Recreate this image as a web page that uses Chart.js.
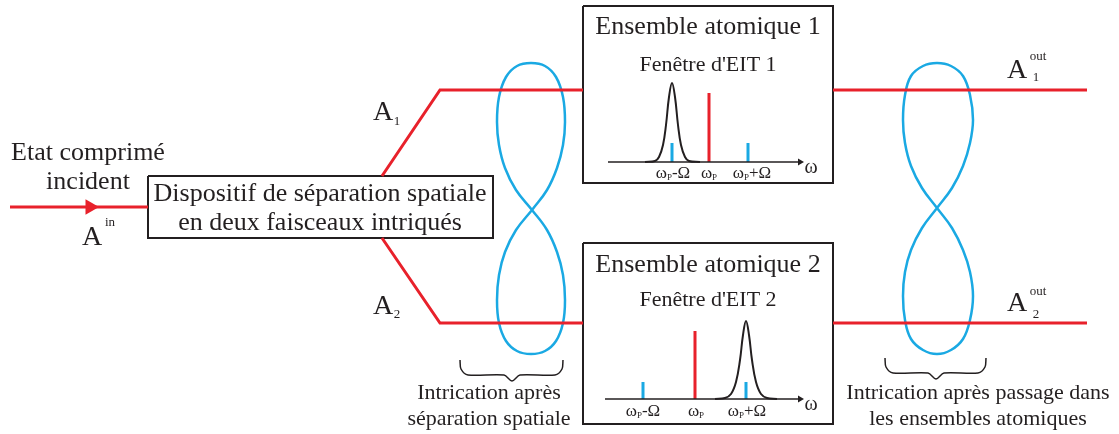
<!DOCTYPE html>
<html>
<head>
<meta charset="utf-8">
<script src="https://cdn.jsdelivr.net/npm/chart.js@4"></script>
<style>
  html, body { margin: 0; padding: 0; background: #fff; }
  canvas { display: block; }
</style>
</head>
<body>
<canvas id="diagram" width="1119" height="434"></canvas>
<script>
// --- Geometry (x, y in pixels, y downwards) ---
const inputBeam = [[10, 207], [148, 207]];
const arm1 = [[382, 176], [440, 90], [583, 90]];
const arm2 = [[382, 238], [440, 323], [583, 323]];
const out1 = [[833, 90], [1087, 90]];
const out2 = [[833, 323], [1087, 323]];

const splitterBox = [[148, 176], [493, 176], [493, 238], [148, 238], [148, 176]];
const atomBox1 = [[583, 6], [833, 6], [833, 183], [583, 183], [583, 6]];
const atomBox2 = [[583, 243], [833, 243], [833, 424], [583, 424], [583, 243]];

const axis1 = [[608, 162], [800, 162]];
const axis2 = [[605, 399], [800, 399]];

const eit1 = [[645, 162], [655, 161], [659, 157], [663, 145], [666, 125], [669, 97], [672, 83],
              [675, 97], [678, 125], [681, 145], [685, 157], [689, 161], [700, 162]];
const eit2 = [[715, 399], [725, 398], [731, 394], [736, 382], [740, 360], [743, 335], [746, 321],
              [749, 335], [752, 360], [756, 382], [761, 394], [767, 398], [777, 399]];

const probe1 = [[709, 93], [709, 162]];
const probe2 = [[695, 331], [695, 399]];
const side1a = [[672, 143], [672, 162]];
const side1b = [[748, 143], [748, 162]];
const side2a = [[643, 382], [643, 399]];
const side2b = [[746, 382], [746, 399]];

const loop1 = [[532, 210], [547, 190], [557, 168], [563, 145], [565, 122], [563, 97], [556, 77], [545, 66], [531, 63],
               [517, 66], [506, 77], [499, 97], [497, 122], [499, 145], [505, 168], [516, 190], [532, 210],
               [547, 230], [557, 252], [563, 275], [565, 300], [563, 323], [556, 341], [545, 351], [531, 354],
               [517, 351], [506, 341], [499, 323], [497, 300], [499, 275], [505, 252], [516, 230], [532, 210]];
const loop2 = [[937, 208], [952, 188], [963, 166], [970, 143], [973, 120], [970, 95], [963, 76], [951, 66], [937, 63],
               [923, 66], [911, 76], [905, 95], [903, 120], [905, 143], [911, 166], [922, 188], [937, 208],
               [952, 228], [963, 250], [970, 272], [973, 296], [970, 320], [963, 339], [951, 350], [937, 354],
               [923, 350], [911, 339], [905, 320], [903, 296], [905, 272], [911, 250], [922, 228], [937, 208]];

const brace1 = [[460, 360], [461, 369], [468, 375], [504, 375], [512, 381], [520, 375], [555, 375], [562, 369], [563, 360]];
const brace2 = [[885, 358], [886, 367], [893, 373], [928, 373], [936, 379], [944, 373], [978, 373], [985, 367], [986, 358]];

const arrowHeads = [[90, 207]];
const axisHeads = [[800, 162], [800, 399]];

// --- Text labels: [text, size, x, y] ---
const labels = [
  ['Etat comprimé', 26, 88, 153],
  ['incident', 26, 88, 182],
  ['A', 28, 92, 238],
  ['in', 13, 110, 223],
  ['Dispositif de séparation spatiale', 26, 320, 194],
  ['en deux faisceaux intriqués', 26, 320, 223],
  ['A', 28, 383, 113],
  ['1', 13, 397, 122],
  ['A', 28, 383, 307],
  ['2', 13, 397, 315],
  ['Ensemble atomique 1', 26, 708, 27],
  ['Fenêtre d\'EIT 1', 22, 708, 65],
  ['Ensemble atomique 2', 26, 708, 265],
  ['Fenêtre d\'EIT 2', 22, 708, 300],
  ['ω', 20, 811, 168],
  ['ω', 20, 811, 405],
  ['A', 28, 1017, 71],
  ['out', 13, 1038, 57],
  ['1', 13, 1036, 78],
  ['A', 28, 1017, 304],
  ['out', 13, 1038, 292],
  ['2', 13, 1036, 315],
  ['Intrication après', 22, 489, 393],
  ['séparation spatiale', 22, 489, 419],
  ['Intrication après passage dans', 22, 978, 393],
  ['les ensembles atomiques', 22, 978, 419]
];
// frequency labels with subscript P: [prefix, suffix, x, y]
const freqLabels = [
  ['ω', '-Ω', 673, 174],
  ['ω', '', 709, 174],
  ['ω', '+Ω', 752, 174],
  ['ω', '-Ω', 643, 412],
  ['ω', '', 696, 412],
  ['ω', '+Ω', 747, 412]
];

const RED = '#e8212b';
const BLUE = '#1aa9e3';
const INK = '#231f20';
const FONT = '"Liberation Serif", "DejaVu Serif", serif';

const pts = arr => arr.map(([x, y]) => ({ x, y }));

function line(data, color, width, tension = 0) {
  return { data: pts(data), showLine: true, borderColor: color, borderWidth: width,
           pointRadius: 0, tension, fill: false, borderJoinStyle: 'miter' };
}

const textPlugin = {
  id: 'diagramText',
  afterDatasetsDraw(chart) {
    const { ctx, scales } = chart;
    const px = v => scales.x.getPixelForValue(v);
    const py = v => scales.y.getPixelForValue(v);
    ctx.save();
    ctx.fillStyle = INK;
    ctx.textBaseline = 'middle';
    ctx.textAlign = 'center';
    labels.forEach(([t, s, x, y]) => {
      ctx.font = s + 'px ' + FONT;
      ctx.fillText(t, px(x), py(y));
    });
    ctx.textAlign = 'left';
    freqLabels.forEach(([a, b, x, y]) => {
      const parts = [[a, 17, 0], ['P', 9, 4], [b, 17, 0]];
      let total = 0;
      parts.forEach(([t, s]) => { ctx.font = s + 'px ' + FONT; total += ctx.measureText(t).width; });
      let cx = px(x) - total / 2;
      parts.forEach(([t, s, dy]) => {
        ctx.font = s + 'px ' + FONT;
        ctx.fillText(t, cx, py(y) + dy);
        cx += ctx.measureText(t).width;
      });
    });
    ctx.restore();
  }
};

new Chart(document.getElementById('diagram'), {
  type: 'scatter',
  data: {
    datasets: [
      line(inputBeam, RED, 3),
      line(arm1, RED, 3),
      line(arm2, RED, 3),
      line(out1, RED, 3),
      line(out2, RED, 3),
      line(splitterBox, INK, 2),
      line(atomBox1, INK, 2),
      line(atomBox2, INK, 2),
      line(axis1, INK, 1.5),
      line(axis2, INK, 1.5),
      line(eit1, INK, 2, 0.4),
      line(eit2, INK, 2, 0.4),
      line(probe1, RED, 3),
      line(probe2, RED, 3),
      line(side1a, BLUE, 3),
      line(side1b, BLUE, 3),
      line(side2a, BLUE, 3),
      line(side2b, BLUE, 3),
      line(loop1, BLUE, 2.5, 0.4),
      line(loop2, BLUE, 2.5, 0.4),
      line(brace1, INK, 1.5, 0.3),
      line(brace2, INK, 1.5, 0.3),
      { data: pts(arrowHeads), pointStyle: 'triangle', rotation: 90, pointRadius: 9,
        backgroundColor: RED, borderColor: RED, borderWidth: 0 },
      { data: pts(axisHeads), pointStyle: 'triangle', rotation: 90, pointRadius: 4,
        backgroundColor: INK, borderColor: INK, borderWidth: 0 }
    ]
  },
  options: {
    responsive: false,
    animation: false,
    layout: { padding: 0, autoPadding: false },
    plugins: { legend: { display: false }, tooltip: { enabled: false } },
    scales: {
      x: { type: 'linear', min: 0, max: 1119, display: false },
      y: { type: 'linear', min: 0, max: 434, reverse: true, display: false }
    }
  },
  plugins: [textPlugin]
});
</script>
</body>
</html>
